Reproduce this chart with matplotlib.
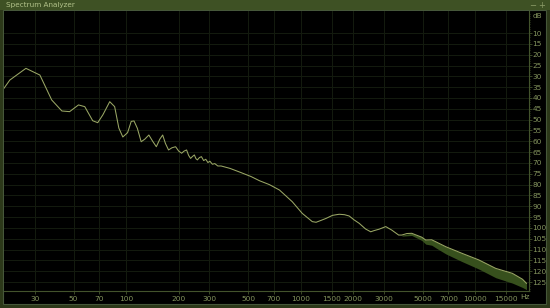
import matplotlib
matplotlib.use("Agg")
import matplotlib.pyplot as plt
from matplotlib.patches import FancyBboxPatch, Rectangle
import numpy as np

# ---- data ----
freq_hz = [20, 21.6, 26.7, 32.1, 37.5, 42.9, 47.5, 53.4, 58, 64.4, 68.8, 73.6, 80.6, 86,
           90.9, 95.8, 102, 107, 111, 116, 122, 128, 135, 142, 149, 156, 162, 168, 175,
           183, 192, 200, 208, 215, 222, 228, 234, 240, 246, 251, 256, 263, 270, 278,
           286, 294, 302, 312, 322, 335, 350, 393, 450, 520, 580, 661, 755, 894, 1020,
           1164, 1224, 1300, 1397, 1520, 1660, 1780, 1894, 2020, 2162, 2350, 2515, 2618,
           2808, 3066, 3318, 3634, 3790, 4050, 4320, 4930, 5196, 5620, 5930, 6770, 8350,
           10460, 13070, 16280, 18590, 19600]
level_db = [35.5, 31.7, 26.3, 29.4, 40.9, 46.0, 46.3, 43.2, 44.0, 50.5, 51.4, 47.8, 41.7, 44.0,
            53.9, 58.0, 56.0, 50.8, 50.6, 54.0, 60.2, 59.0, 57.1, 60.0, 62.5, 59.0, 57.1, 61.0, 64.0,
            63.0, 62.5, 64.5, 65.5, 64.5, 64.0, 66.5, 67.9, 67.0, 66.3, 68.0, 68.6, 67.5, 67.1, 68.9,
            68.3, 69.8, 69.2, 70.6, 70.3, 71.4, 71.4, 72.5, 74.3, 76.3, 78.2, 80.0, 82.5, 87.9, 93.3,
            97.1, 97.4, 96.6, 95.6, 94.2, 93.7, 93.9, 94.5, 96.3, 97.9, 100.5, 101.8, 101.3,
            100.6, 99.4, 101.0, 103.3, 103.3, 102.6, 102.5, 104.3, 105.6, 105.5, 106.4, 108.7, 111.7,
            114.8, 118.7, 121.0, 123.7, 125.6]

band_freq = [3800, 4320, 4930, 5196, 5620, 5930, 6770, 8350, 10460, 13070, 16280, 18590, 19600]
band_top = [103.3, 102.5, 104.3, 105.6, 105.5, 106.4, 108.7, 111.7, 114.8, 118.7, 121.0, 123.7, 125.6]
band_bottom = [103.8, 103.5, 105.8, 107.5, 108.0, 109.2, 112.0, 115.5, 119.0, 123.0, 125.5, 127.5, 128.5]

x_ticks = [30, 50, 70, 100, 200, 300, 500, 700, 1000, 1500, 2000, 3000, 5000, 7000, 10000, 15000]
x_labels = ["30", "50", "70", "100", "200", "300", "500", "700", "1000", "1500", "2000",
            "3000", "5000", "7000", "10000", "15000"]
y_ticks = list(range(10, 130, 5))
y_labels = [str(v) for v in y_ticks]

# ---- styling ----
W, H = 550, 308
border_col = "#2c3819"
bar_col = "#3e5124"
text_col = "#84945e"
grid_col = "#141b0f"
axis_col = "#43532c"
line_col = "#9aa765"
band_col = "#37501d"

fig = plt.figure(figsize=(W / 100, H / 100), dpi=100, facecolor=border_col)

def fx(px):
    return px / W

def fy(py):
    return 1 - py / H

# inner black panel
fig.patches.append(Rectangle((fx(3), fy(304)), fx(543), 294 / H, transform=fig.transFigure,
                             facecolor="#000000", edgecolor="#46573a", linewidth=0.8, zorder=-2))
# title bar
fig.patches.append(Rectangle((0, fy(10)), 1, 10 / H, transform=fig.transFigure,
                             facecolor=bar_col, edgecolor="none", zorder=-2))
fig.text(fx(6), fy(5.3), "Spectrum Analyzer", fontsize=5.2, color="#b2c28a",
         va="center", ha="left")
fig.text(fx(533), fy(5.8), "\u2212", fontsize=6, color="#8d9d6a", va="center", ha="center")
fig.text(fx(542), fy(5.8), "+", fontsize=6, color="#8d9d6a", va="center", ha="center")

left, right, top, bottom = 4, 529, 11.4, 291
ax = fig.add_axes([fx(left), fy(bottom), fx(right - left), (bottom - top) / H])
ax.set_zorder(2)
ax.set_facecolor("#000000")
ax.set_xscale("log")
ax.set_xlim(20, 20000 * 10 ** (1 / 175))
ymax = (bottom - top) / 2.165
ax.set_ylim(ymax, 0)

ax.fill_between(band_freq, band_top, band_bottom, color=band_col, linewidth=0, zorder=2)
ax.plot(freq_hz, level_db, color=line_col, linewidth=0.75, zorder=3)

ax.set_xticks(x_ticks)
ax.set_xticklabels(x_labels)
ax.xaxis.set_minor_locator(matplotlib.ticker.NullLocator())
ax.set_yticks(y_ticks)
ax.set_yticklabels(y_labels)
ax.set_yticks(np.arange(1, 130, 1), minor=True)
ax.yaxis.tick_right()

ax.grid(True, which="major", color=grid_col, linewidth=0.7)
ax.tick_params(axis="both", which="major", labelsize=5.3, colors=axis_col,
               labelcolor=text_col, length=2, width=0.6, pad=1.5)
ax.tick_params(axis="y", which="minor", length=1, width=0.5, colors=axis_col)
ax.tick_params(axis="y", which="major", pad=0.5)

for s in ["top", "left"]:
    ax.spines[s].set_visible(False)
for s in ["right", "bottom"]:
    ax.spines[s].set_color(axis_col)
    ax.spines[s].set_linewidth(0.8)

ax.text(1.007, 1 - (16 - top) / (bottom - top), "dB", transform=ax.transAxes,
        fontsize=5.3, color=text_col, va="center", ha="left")
ax.text(19300, ymax + 2.9, "Hz", fontsize=5.3, color=text_col, va="center", ha="center")

fig.savefig("out.png", dpi=100, facecolor=fig.get_facecolor())
